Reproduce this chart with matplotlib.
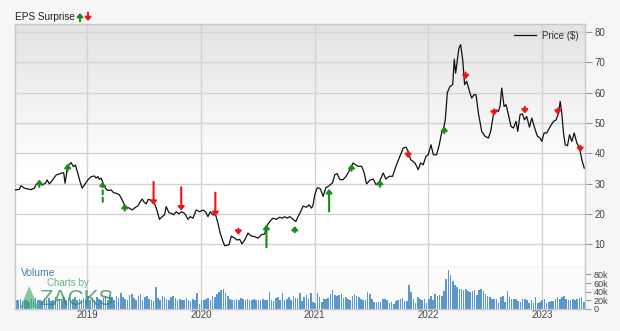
import numpy as np
import matplotlib
matplotlib.use("Agg")
import matplotlib.pyplot as plt
from matplotlib.patches import Polygon

plt.rcParams['font.family'] = ['Liberation Sans', 'DejaVu Sans']

# ---------------- data (x in decimal years) ----------------
price_t = [2018.366, 2018.404, 2018.419, 2018.448, 2018.507, 2018.536, 2018.551, 2018.580, 2018.604, 2018.633,
           2018.648, 2018.668, 2018.697, 2018.727, 2018.771, 2018.794, 2018.806, 2018.824, 2018.838, 2018.859,
           2018.879, 2018.897, 2018.918, 2018.938, 2018.956, 2018.976, 2019.006, 2019.035, 2019.064, 2019.079,
           2019.094, 2019.108, 2019.123, 2019.138, 2019.161, 2019.182, 2019.211, 2019.232, 2019.255, 2019.284,
           2019.308, 2019.328, 2019.349, 2019.372, 2019.396, 2019.425, 2019.446, 2019.466, 2019.484, 2019.498,
           2019.519, 2019.537, 2019.554, 2019.578, 2019.592, 2019.613, 2019.636, 2019.660, 2019.680, 2019.695,
           2019.719, 2019.739, 2019.760, 2019.783, 2019.807, 2019.827, 2019.848, 2019.865, 2019.886, 2019.906,
           2019.930, 2019.959, 2019.989, 2020.018, 2020.041, 2020.062, 2020.082, 2020.106, 2020.129, 2020.150,
           2020.170, 2020.194, 2020.209, 2020.247, 2020.267, 2020.297, 2020.317, 2020.341, 2020.361, 2020.385,
           2020.414, 2020.443, 2020.473, 2020.502, 2020.531, 2020.561, 2020.575, 2020.605, 2020.634, 2020.663,
           2020.693, 2020.716, 2020.737, 2020.757, 2020.781, 2020.810, 2020.834, 2020.854, 2020.884, 2020.898,
           2020.928, 2020.951, 2020.972, 2020.986, 2021.001, 2021.021, 2021.030, 2021.051, 2021.074, 2021.098,
           2021.127, 2021.156, 2021.177, 2021.197, 2021.221, 2021.250, 2021.280, 2021.309, 2021.338, 2021.362,
           2021.382, 2021.412, 2021.432, 2021.456, 2021.485, 2021.514, 2021.538, 2021.567, 2021.602, 2021.626,
           2021.655, 2021.685, 2021.714, 2021.749, 2021.778, 2021.802, 2021.822, 2021.843, 2021.881, 2021.910,
           2021.931, 2021.954, 2021.978, 2021.998, 2022.022, 2022.043, 2022.072, 2022.095, 2022.116, 2022.131,
           2022.148, 2022.166, 2022.189, 2022.213, 2022.227, 2022.239, 2022.254, 2022.268, 2022.283, 2022.301,
           2022.318, 2022.336, 2022.365, 2022.380, 2022.401, 2022.418, 2022.439, 2022.468, 2022.497, 2022.527,
           2022.547, 2022.571, 2022.594, 2022.615, 2022.629, 2022.644, 2022.665, 2022.682, 2022.703, 2022.726,
           2022.747, 2022.770, 2022.785, 2022.805, 2022.826, 2022.844, 2022.864, 2022.888, 2022.908, 2022.938,
           2022.958, 2022.982, 2022.996, 2023.017, 2023.040, 2023.070, 2023.099, 2023.122, 2023.143, 2023.158,
           2023.172, 2023.187, 2023.202, 2023.222, 2023.240, 2023.260, 2023.281, 2023.304, 2023.328, 2023.348,
           2023.369]
price_v = [27.9, 28.1, 29.3, 28.5, 28.0, 28.5, 29.6, 30.6, 29.5, 30.1,
           31.2, 29.9, 31.2, 32.8, 33.4, 33.6, 30.1, 34.5, 36.1, 36.9,
           35.6, 36.1, 33.4, 30.6, 28.5, 29.5, 31.2, 32.3, 32.5, 31.8,
           32.3, 31.4, 31.8, 30.3, 28.5, 27.7, 27.9, 27.0, 26.8, 26.3,
           24.6, 23.0, 22.2, 21.9, 21.3, 22.2, 22.6, 24.0, 24.9, 24.0,
           23.3, 24.8, 24.6, 23.7, 23.5, 21.3, 18.2, 19.1, 19.7, 22.4,
           20.4, 20.2, 19.7, 20.7, 20.0, 20.7, 20.4, 19.7, 18.2, 19.1,
           18.6, 21.3, 20.7, 21.3, 20.7, 19.1, 20.7, 19.7, 19.7, 16.9,
           13.6, 10.9, 9.5, 9.8, 12.7, 12.0, 11.4, 11.6, 10.1, 11.4,
           13.7, 12.7, 12.5, 12.0, 13.1, 13.4, 15.8, 17.5, 18.6, 18.2,
           18.9, 18.6, 19.1, 18.6, 19.1, 18.2, 17.5, 19.1, 21.3, 22.6,
           22.2, 23.0, 21.9, 23.0, 26.3, 28.5, 28.6, 28.2, 25.8, 28.6,
           29.3, 30.2, 32.9, 33.3, 31.3, 31.3, 32.6, 34.6, 36.8, 36.1,
           35.7, 35.7, 34.0, 29.9, 31.1, 31.5, 29.7, 30.4, 33.5, 31.5,
           32.4, 32.4, 35.7, 39.0, 41.7, 42.0, 40.6, 37.9, 36.8, 34.6,
           36.8, 36.2, 39.0, 39.5, 42.8, 39.5, 39.5, 42.8, 46.7, 47.8,
           51.0, 60.0, 62.0, 62.6, 71.0, 66.4, 70.8, 74.6, 75.8, 70.8,
           62.6, 63.7, 59.8, 58.2, 59.3, 59.3, 53.2, 47.2, 45.6, 45.0,
           47.2, 52.7, 54.3, 53.8, 55.4, 61.5, 55.4, 56.0, 52.7, 48.8,
           48.3, 50.5, 47.2, 52.7, 53.0, 51.0, 52.1, 48.6, 51.6, 47.8,
           45.6, 45.0, 43.9, 46.7, 46.7, 48.8, 50.5, 51.0, 53.2, 57.1,
           53.2, 46.7, 42.8, 42.5, 46.1, 43.9, 46.7, 43.4, 41.7, 37.9,
           35.1]

# EPS surprise arrows: date, tail value, tip value
eps_t    = [2018.580, 2018.829, 2019.137, 2019.331, 2019.584, 2019.827, 2020.127, 2020.329, 2020.576, 2020.825,
            2021.127, 2021.324, 2021.573, 2021.822, 2022.139, 2022.327, 2022.576, 2022.847, 2023.137, 2023.334]
eps_tail = [28.9, 34.2, 24.0, 21.1, 30.6, 28.8, 27.0, 15.1, 9.0, 13.9,
            20.8, 34.2, 28.9, 40.6, 46.6, 66.6, 54.5, 55.3, 54.8, 42.5]
eps_tip  = [31.3, 36.5, 30.6, 23.3, 23.0, 21.1, 19.3, 13.1, 16.4, 16.0,
            28.2, 36.4, 31.2, 38.4, 48.8, 64.4, 52.4, 53.1, 52.7, 40.4]
eps_dashed = [False, False, True, False, False, False, False, False, False, False,
              False, False, False, False, False, False, False, False, False, False]

# weekly volume (thousands)
volume_k = [22, 20, 24, 18, 22, 21, 17, 23, 19, 25, 20, 22, 18, 24, 21, 26, 19, 22, 28, 20,
            24, 18, 27, 22, 25, 19, 23, 28, 21, 24, 20, 26, 22, 30, 21, 25, 19, 28, 23, 21,
            26, 31, 22, 34, 27, 20, 30, 25, 36, 28, 24, 22, 32, 34, 26, 21, 29, 35, 22, 27,
            31, 24, 20, 19, 51, 26, 22, 30, 28, 24, 20, 27, 31, 25, 21, 24, 22, 20, 25, 21,
            19, 23, 20, 38, 12, 20, 22, 24, 26, 22, 30, 28, 35, 40, 44, 47, 38, 30, 24, 22,
            20, 24, 22, 25, 23, 21, 24, 22, 20, 23, 22, 20, 21, 24, 22, 20, 40, 22, 18, 25,
            27, 21, 38, 22, 24, 28, 20, 30, 25, 26, 36,
            19, 27, 32, 23, 36, 17, 14, 37, 27, 17, 24, 23, 26, 34, 44, 32, 29, 32, 34, 25,
            27, 23, 21, 30, 34, 29, 27, 23, 21, 21, 40, 34, 23, 17, 17, 17, 17, 23, 23, 21,
            14, 17, 11, 19, 21, 23, 25, 19, 19, 56, 40, 23, 15, 27, 23, 21, 23, 14, 23, 29,
            21, 34, 30, 32, 30, 42, 70, 91, 78, 65, 55, 52, 46, 47, 44, 47, 42, 40, 42, 44,
            32, 44, 47, 42, 34, 29, 27, 23, 23, 24, 15, 27, 29, 17, 42, 27, 24, 23, 24, 19,
            17, 24, 23, 21, 14, 21, 15, 27, 14, 17, 21, 23, 14, 17, 19, 19, 23, 27, 24, 27,
            29, 23, 21, 20, 23, 21, 24, 25, 27, 17]
vol_start, vol_end = 2018.375, 2023.365

years = [2019, 2020, 2021, 2022, 2023]
price_ticks = [10, 20, 30, 40, 50, 60, 70, 80]
vol_ticks = [0, 20, 40, 60, 80]
vol_tick_labels = ['0', '20k', '40k', '60k', '80k']

# ---------------- figure ----------------
W, H = 620, 331
fig = plt.figure(figsize=(W / 100, H / 100), dpi=100)
fig.patch.set_facecolor('#f6f6f6')

xl, xr = 15 / W, 585 / W
ax = fig.add_axes([xl, 1 - 266.7 / H, xr - xl, (266.7 - 24) / H])
axv = fig.add_axes([xl, 1 - 309 / H, xr - xl, (309 - 266.7) / H])

xmin, xmax = 2018.366, 2023.376
grid_c = '#d3d3d3'
edge_c = '#c8c8c8'
tick_c = '#444444'
green = '#1a8a1a'
red = '#f01414'
arrow_style = '-|>,head_length=0.35,head_width=0.3'

# price panel gradient background
grad = np.linspace(0, 1, 256).reshape(-1, 1)
g = np.clip(grad / 0.6, 0, 1)
top_c = np.array([0.89, 0.89, 0.89])
bot_c = np.array([1.0, 1.0, 1.0])
img = top_c[None, None, :] * (1 - g[..., None]) + bot_c[None, None, :] * g[..., None]
ax.imshow(img, extent=[0, 1, 0, 1], transform=ax.transAxes, aspect='auto', zorder=0)

ax.set_xlim(xmin, xmax)
ax.set_ylim(2.6, 82.6)
for v in price_ticks:
    ax.axhline(v, color=grid_c, lw=1.0, zorder=1)
for yv in years:
    ax.axvline(yv, color=grid_c, lw=1.0, zorder=1)

ax.plot(price_t, price_v, color='#111111', lw=0.9, zorder=3, label='Price ($)')

for t, a, b, d in zip(eps_t, eps_tail, eps_tip, eps_dashed):
    col = green if b > a else red
    ax.annotate('', xy=(t, b), xytext=(t, a),
                arrowprops=dict(arrowstyle=arrow_style,
                                mutation_scale=6, color=col, lw=1.5, shrinkA=0, shrinkB=0,
                                linestyle=(0, (2, 1.5)) if d else '-'),
                zorder=4)

ax.yaxis.tick_right()
ax.set_yticks(price_ticks)
ax.set_xticks([])
ax.tick_params(axis='y', length=5, width=0.8, color='#999999', labelsize=7, labelcolor=tick_c, pad=2)
for s in ax.spines.values():
    s.set_color(edge_c)
    s.set_linewidth(1.0)

leg = ax.legend(loc='upper right', frameon=False, fontsize=7, handlelength=2.2,
                borderaxespad=0.3, handletextpad=0.6)
for txt in leg.get_texts():
    txt.set_color('#333333')

# volume panel
axv.set_facecolor('#fbfbfb')
axv.set_xlim(xmin, xmax)
axv.set_ylim(0, 98)
for yv in years:
    axv.axvline(yv, color=grid_c, lw=1.0, zorder=1)
vt = np.linspace(vol_start, vol_end, len(volume_k))
axv.bar(vt, volume_k, width=0.72 * 7 / 365.25, color='#5a97cf', edgecolor='none', zorder=2)
axv.yaxis.tick_right()
axv.set_yticks(vol_ticks)
axv.set_yticklabels(vol_tick_labels)
axv.tick_params(axis='y', length=4, width=0.8, color='#999999', labelsize=6.5, labelcolor=tick_c, pad=2)
axv.set_xticks(years)
axv.set_xticklabels([str(y) for y in years])
axv.tick_params(axis='x', length=0, labelsize=7, labelcolor=tick_c, pad=1)
for k, s in axv.spines.items():
    s.set_color(edge_c)
    s.set_linewidth(1.0)
axv.spines['top'].set_visible(False)

axv.text(0.01, 0.96, 'Volume', transform=axv.transAxes, fontsize=7.5, color='#4a7fc0',
         va='top', ha='left', zorder=5)
# watermark
axv.text(0.057, 0.74, 'Charts by', transform=axv.transAxes, fontsize=7, color='#3a9a5a',
         alpha=0.75, va='top', ha='left', zorder=5)
axv.text(0.043, -0.03, 'ZACKS', transform=axv.transAxes, fontsize=16, color='#2e8b57',
         alpha=0.75, va='bottom', ha='left', zorder=5)
tri = Polygon([[0.009, 0.02], [0.041, 0.02], [0.025, 0.55]], closed=True, transform=axv.transAxes,
              facecolor='#3aa860', alpha=0.6, edgecolor='none', zorder=5)
axv.add_patch(tri)

# header
fig.text(15 / W, 1 - 17 / H, 'EPS Surprise', fontsize=7.2, color='#222222', va='center', ha='left')
fig.add_artist(matplotlib.patches.FancyArrowPatch((80 / W, 1 - 21.5 / H), (80 / W, 1 - 13 / H),
               transform=fig.transFigure, arrowstyle=arrow_style,
               mutation_scale=6, color=green, lw=1.4, shrinkA=0, shrinkB=0))
fig.add_artist(matplotlib.patches.FancyArrowPatch((88 / W, 1 - 12.5 / H), (88 / W, 1 - 21 / H),
               transform=fig.transFigure, arrowstyle=arrow_style,
               mutation_scale=6, color=red, lw=1.4, shrinkA=0, shrinkB=0))

fig.savefig('out.png', dpi=100, facecolor=fig.get_facecolor())
